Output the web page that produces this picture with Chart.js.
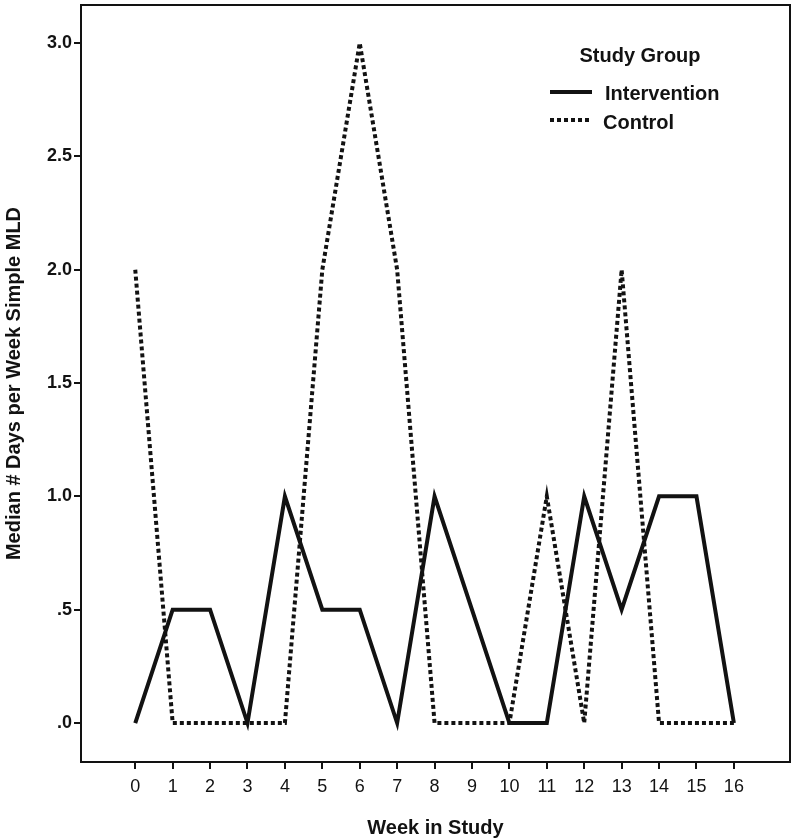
<!DOCTYPE html>
<html>
<head>
<meta charset="utf-8">
<script src="https://cdn.jsdelivr.net/npm/chart.js@4/dist/chart.umd.min.js"></script>
<style>
  html, body { margin: 0; padding: 0; background: #fff; }
  #wrap { width: 792px; height: 840px; }
</style>
</head>
<body>
<div id="wrap"><canvas id="chart1" width="792" height="840"></canvas></div>
<script>
// data
const weeks = [0, 1, 2, 3, 4, 5, 6, 7, 8, 9, 10, 11, 12, 13, 14, 15, 16];
const intervention = [0, 0.5, 0.5, 0, 1, 0.5, 0.5, 0, 1, 0.5, 0, 0, 1, 0.5, 1, 1, 0];
const control = [2, 0, 0, 0, 0, 2, 3, 2, 0, 0, 0, 1, 0, 2, 0, 0, 0];
const yTicks = [0, 0.5, 1, 1.5, 2, 2.5, 3];
const yTickLabels = ['.0', '.5', '1.0', '1.5', '2.0', '2.5', '3.0'];

const ink = '#121212';
const fontFam = '"Liberation Sans", Arial, sans-serif';

// box round the plot + legend inside it
const boxAndLegend = {
    id: 'boxAndLegend',
    afterDraw(chart) {
        const c = chart.ctx, a = chart.chartArea;
        c.save();
        c.strokeStyle = ink;
        c.lineWidth = 2;
        c.strokeRect(a.left, a.top, a.right - a.left, a.bottom - a.top);

        c.fillStyle = ink;
        c.textBaseline = 'middle';
        c.font = 'bold 20px ' + fontFam;
        c.textAlign = 'center';
        c.fillText('Study Group', 640, 56);

        c.textAlign = 'left';
        c.lineWidth = 4;
        c.beginPath();
        c.moveTo(550, 92); c.lineTo(592, 92);
        c.stroke();
        c.fillText('Intervention', 605, 94);

        c.setLineDash([4, 3]);
        c.beginPath();
        c.moveTo(550, 120); c.lineTo(590, 120);
        c.stroke();
        c.setLineDash([]);
        c.fillText('Control', 603, 123);
        c.restore();
    }
};

const ctx1 = document.getElementById('chart1').getContext('2d');
new Chart(ctx1, {
    type: 'line',
    data: {
        datasets: [{
            label: 'Intervention',
            data: weeks.map((w, i) => ({ x: w, y: intervention[i] })),
            borderColor: ink,
            borderWidth: 4,
            borderJoinStyle: 'miter',
            pointRadius: 0,
            tension: 0,
            fill: false
        }, {
            label: 'Control',
            data: weeks.map((w, i) => ({ x: w, y: control[i] })),
            borderColor: ink,
            borderWidth: 4,
            borderDash: [4, 3],
            borderJoinStyle: 'miter',
            pointRadius: 0,
            tension: 0,
            fill: false
        }]
    },
    options: {
        responsive: false,
        animation: false,
        layout: { padding: { top: 5, right: 2, left: 0, bottom: 0 } },
        plugins: {
            legend: { display: false },
            tooltip: { enabled: false }
        },
        scales: {
            x: {
                type: 'linear',
                min: -1.45,
                max: 17.5,
                afterBuildTicks: s => { s.ticks = weeks.map(v => ({ value: v })); },
                afterFit: s => { s.height = 78; s.paddingLeft = 0; s.paddingRight = 0; },
                grid: { display: true, drawOnChartArea: false, drawTicks: true, tickLength: 7, color: ink, lineWidth: 2 },
                border: { display: false },
                ticks: { color: ink, font: { family: fontFam, size: 18 }, padding: 7, maxRotation: 0, autoSkip: false },
                title: { display: true, text: 'Week in Study', color: ink, font: { family: fontFam, size: 20, weight: 'bold' }, padding: { top: 18, bottom: 0 } }
            },
            y: {
                type: 'linear',
                min: -0.172,
                max: 3.168,
                afterBuildTicks: s => { s.ticks = yTicks.map(v => ({ value: v })); },
                afterFit: s => { s.width = 81; s.paddingTop = 0; s.paddingBottom = 0; },
                grid: { display: true, drawOnChartArea: false, drawTicks: true, tickLength: 7, color: ink, lineWidth: 2 },
                border: { display: false },
                ticks: {
                    color: ink,
                    font: { family: fontFam, size: 18, weight: 'bold' },
                    padding: 2,
                    callback: v => yTickLabels[yTicks.indexOf(v)]
                },
                title: { display: true, text: 'Median # Days per Week Simple MLD', color: ink, font: { family: fontFam, size: 20, weight: 'bold' }, padding: { top: 2, bottom: 0 } }
            }
        }
    },
    plugins: [boxAndLegend]
});
</script>
</body>
</html>
